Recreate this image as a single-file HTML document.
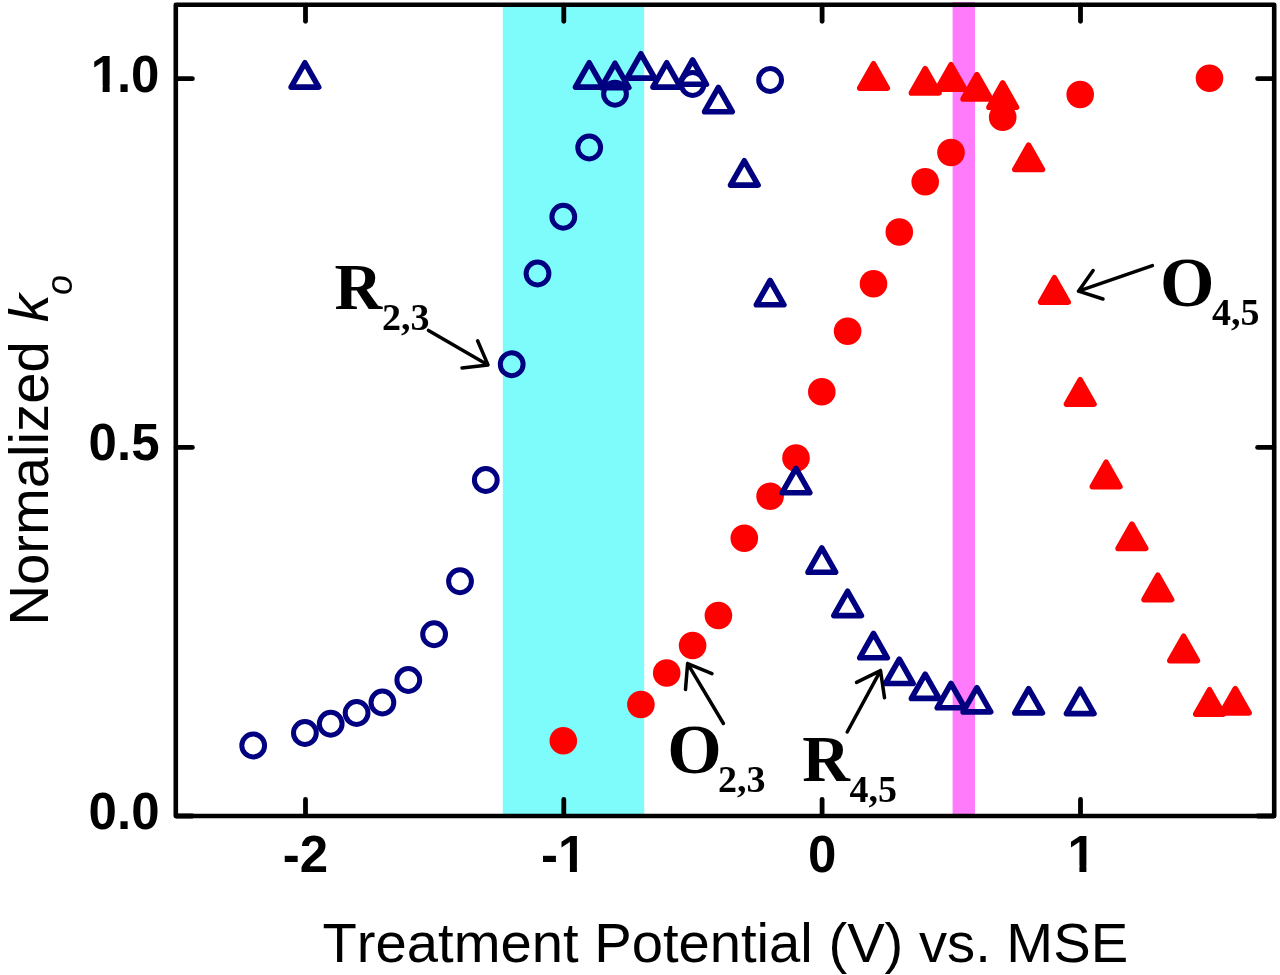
<!DOCTYPE html>
<html lang="en"><head><meta charset="utf-8"><title>Normalized k vs Treatment Potential</title>
<style>
html,body{margin:0;padding:0;background:#fff;}
body{width:1280px;height:975px;overflow:hidden;}
svg{display:block;}
.tk{font-family:"Liberation Sans",Arial,Helvetica,sans-serif;font-weight:bold;font-size:51px;fill:#000;}
.ax{font-family:"Liberation Sans",Arial,Helvetica,sans-serif;font-size:56.2px;fill:#000;font-kerning:none;}
.lb{font-family:"Liberation Serif","Times New Roman",Times,serif;font-weight:bold;font-size:66px;fill:#000;}
.sb{font-size:38px;}
.ar{fill:none;stroke:#000;stroke-width:3.5;stroke-linecap:round;stroke-linejoin:round;}
</style></head><body>
<svg width="1280" height="975" viewBox="0 0 1280 975">
<rect x="0" y="0" width="1280" height="975" fill="#ffffff"/>
<rect x="502.8" y="5" width="141.4" height="811" fill="#7dfcfb"/>
<rect x="952.6" y="2" width="22.4" height="814" fill="#ff7bfb"/>
<g fill="none" stroke="#000080" stroke-width="5.0">
<circle cx="253.2" cy="745.5" r="11.4"/>
<circle cx="304.9" cy="733" r="11.4"/>
<circle cx="330.7" cy="723.75" r="11.4"/>
<circle cx="356.6" cy="713" r="11.4"/>
<circle cx="382.4" cy="702.5" r="11.4"/>
<circle cx="408.3" cy="680" r="11.4"/>
<circle cx="434.1" cy="634.25" r="11.4"/>
<circle cx="460.0" cy="581.25" r="11.4"/>
<circle cx="485.8" cy="480" r="11.4"/>
<circle cx="511.7" cy="364.25" r="11.4"/>
<circle cx="537.5" cy="273.5" r="11.4"/>
<circle cx="563.3" cy="216.75" r="11.4"/>
<circle cx="589.2" cy="147.5" r="11.4"/>
<circle cx="615.0" cy="93.75" r="11.4"/>
<circle cx="692.6" cy="84" r="11.4"/>
<circle cx="770.1" cy="80" r="11.4"/>
</g>
<g fill="#ff0000">
<circle cx="563.3" cy="740.75" r="13.8"/>
<circle cx="640.9" cy="704.5" r="13.8"/>
<circle cx="666.7" cy="673" r="13.8"/>
<circle cx="692.6" cy="645.5" r="13.8"/>
<circle cx="718.4" cy="615.5" r="13.8"/>
<circle cx="744.3" cy="538.25" r="13.8"/>
<circle cx="770.1" cy="496.25" r="13.8"/>
<circle cx="796.0" cy="458" r="13.8"/>
<circle cx="821.8" cy="391.75" r="13.8"/>
<circle cx="847.6" cy="331.25" r="13.8"/>
<circle cx="873.5" cy="283.75" r="13.8"/>
<circle cx="899.3" cy="232" r="13.8"/>
<circle cx="925.2" cy="181.75" r="13.8"/>
<circle cx="951.0" cy="152.5" r="13.8"/>
<circle cx="1002.7" cy="117.2" r="13.8"/>
<circle cx="1080.2" cy="94.5" r="13.8"/>
<circle cx="1209.5" cy="78.25" r="13.8"/>
</g>
<g fill="none" stroke="#000080" stroke-width="5.6" stroke-linejoin="round">
<polygon points="304.9,62.8 318.7,87.1 291.1,87.1"/>
<polygon points="589.2,62.8 603.0,87.1 575.4,87.1"/>
<polygon points="615.0,63.3 628.8,87.6 601.2,87.6"/>
<polygon points="640.9,53.8 654.7,78.1 627.1,78.1"/>
<polygon points="666.7,62.8 680.5,87.1 652.9,87.1"/>
<polygon points="692.6,60.0 706.4,84.3 678.8,84.3"/>
<polygon points="718.4,87.4 732.2,111.7 704.6,111.7"/>
<polygon points="744.3,160.8 758.1,185.1 730.5,185.1"/>
<polygon points="770.1,280.5 783.9,304.8 756.3,304.8"/>
<polygon points="796.0,468.4 809.8,492.7 782.2,492.7"/>
<polygon points="821.8,547.9 835.6,572.2 808.0,572.2"/>
<polygon points="847.6,591.3 861.4,615.6 833.8,615.6"/>
<polygon points="873.5,633.5 887.3,657.8 859.7,657.8"/>
<polygon points="899.3,659.2 913.1,683.5 885.5,683.5"/>
<polygon points="925.2,674.1 939.0,698.4 911.4,698.4"/>
<polygon points="951.0,683.5 964.8,707.8 937.2,707.8"/>
<polygon points="976.9,687.6 990.7,711.9 963.1,711.9"/>
<polygon points="1028.6,688.6 1042.4,712.9 1014.8,712.9"/>
<polygon points="1080.2,689.3 1094.0,713.6 1066.4,713.6"/>
</g>
<g fill="#ff0000" stroke="#ff0000" stroke-width="5.6" stroke-linejoin="round">
<polygon points="873.5,63.8 887.3,88.1 859.7,88.1"/>
<polygon points="925.2,68.6 939.0,92.9 911.4,92.9"/>
<polygon points="951.0,64.8 964.8,89.1 937.2,89.1"/>
<polygon points="976.9,74.6 990.7,98.9 963.1,98.9"/>
<polygon points="1002.7,83.0 1016.5,107.3 988.9,107.3"/>
<polygon points="1028.6,145.2 1042.4,169.5 1014.8,169.5"/>
<polygon points="1054.4,277.8 1068.2,302.1 1040.6,302.1"/>
<polygon points="1080.2,379.8 1094.0,404.1 1066.4,404.1"/>
<polygon points="1106.1,462.3 1119.9,486.6 1092.3,486.6"/>
<polygon points="1131.9,524.1 1145.7,548.4 1118.1,548.4"/>
<polygon points="1157.8,575.3 1171.6,599.6 1144.0,599.6"/>
<polygon points="1183.6,636.3 1197.4,660.6 1169.8,660.6"/>
<polygon points="1209.5,689.8 1223.3,714.1 1195.7,714.1"/>
<polygon points="1235.3,688.6 1249.1,712.9 1221.5,712.9"/>
</g>
<g fill="none" stroke="#000" stroke-linecap="round" stroke-linejoin="round">
<rect x="175.8" y="4.7" width="1098.4" height="811.3" stroke-width="4.6"/>
<g stroke-width="4.8" stroke-linecap="round">
<line x1="305.5" y1="5.1" x2="305.5" y2="21.3"/>
<line x1="305.5" y1="815.6" x2="305.5" y2="799.4"/>
<line x1="563.8" y1="5.1" x2="563.8" y2="21.3"/>
<line x1="563.8" y1="815.6" x2="563.8" y2="799.4"/>
<line x1="822.1" y1="5.1" x2="822.1" y2="21.3"/>
<line x1="822.1" y1="815.6" x2="822.1" y2="799.4"/>
<line x1="1080.5" y1="5.1" x2="1080.5" y2="21.3"/>
<line x1="1080.5" y1="815.6" x2="1080.5" y2="799.4"/>
<line x1="176.2" y1="816.0" x2="192.4" y2="816.0"/>
<line x1="1273.8" y1="816.0" x2="1257.6" y2="816.0"/>
<line x1="176.2" y1="447.4" x2="192.4" y2="447.4"/>
<line x1="1273.8" y1="447.4" x2="1257.6" y2="447.4"/>
<line x1="176.2" y1="78.7" x2="192.4" y2="78.7"/>
<line x1="1273.8" y1="78.7" x2="1257.6" y2="78.7"/>
</g></g>
<text class="tk" x="305.5" y="871.5" text-anchor="middle">-2</text>
<text class="tk" x="563.8" y="871.5" text-anchor="middle">-1</text>
<text class="tk" x="822.1" y="871.5" text-anchor="middle">0</text>
<text class="tk" x="1081.7" y="871.5" text-anchor="middle">1</text>
<text class="tk" y="91.7" text-anchor="end"><tspan x="119.0">1</tspan><tspan x="159.5">.0</tspan></text>
<text class="tk" x="159.5" y="460.4" text-anchor="end">0.5</text>
<text class="tk" x="159.5" y="829.0" text-anchor="end">0.0</text>
<rect x="92.6" y="85.5" width="10.06" height="7.2" fill="#ffffff"/>
<rect x="109.64" y="85.5" width="9.0" height="7.2" fill="#ffffff"/>
<rect x="560.0" y="865.5" width="9.9" height="7.2" fill="#ffffff"/>
<rect x="576.9" y="865.5" width="9.0" height="7.2" fill="#ffffff"/>
<rect x="1069.0" y="865.5" width="10.42" height="7.2" fill="#ffffff"/>
<rect x="1086.4" y="865.5" width="9.0" height="7.2" fill="#ffffff"/>
<text class="ax" x="322.5" y="962">Treatment Potential (V) vs. MSE</text>
<text class="ax" transform="translate(47.6,625.5) rotate(-90)">Normalized <tspan font-style="italic" dx="3.6">k</tspan><tspan font-style="italic" font-size="36" dy="24" dx="-1">o</tspan></text>
<text class="lb" x="334.5" y="308.8">R<tspan class="sb" x="382.0" y="329.8">2,3</tspan></text>
<text class="lb" x="1160.0" y="305.6" style="font-size:70px">O<tspan class="sb" x="1212.0" y="324.5">4,5</tspan></text>
<text class="lb" x="667.3" y="772.8" style="font-size:70px">O<tspan class="sb" x="718.0" y="791.8">2,3</tspan></text>
<text class="lb" x="802.3" y="781.3">R<tspan class="sb" x="849.5" y="801.6">4,5</tspan></text>
<path class="ar" d="M428.5,330.4 L488.0,364.9 M477.6,340.8 L488.0,364.9 L462.0,367.9"/>
<path class="ar" d="M723.4,723.5 L687.6,663.6 M712.0,673.6 L687.6,663.6 L685.5,689.5"/>
<path class="ar" d="M847.2,732.0 L880.5,670.6 M856.5,682.4 L880.5,670.6 L884.5,697.7"/>
<path class="ar" d="M1152.4,265.6 L1078.5,291.2 M1093.1,270.5 L1078.5,291.2 L1103.0,299.0"/>
</svg>
</body></html>
